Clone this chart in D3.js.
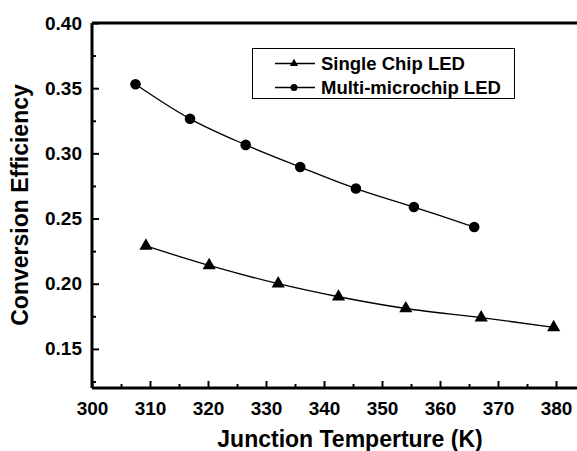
<!DOCTYPE html>
<html>
<head>
<meta charset="utf-8">
<script src="https://cdn.jsdelivr.net/npm/d3@7"></script>
<style>
  html, body { margin: 0; padding: 0; background: #fff; }
  svg { display: block; font-family: "Liberation Sans", Arial, sans-serif; font-weight: bold; }
</style>
</head>
<body>
<div id="chart"></div>
<script>
'use strict';

// data
const singleTemp = [309.3, 320.2, 332.1, 342.5, 354.1, 367.1, 379.6];
const singleEff = [0.229, 0.214, 0.2, 0.19, 0.181, 0.174, 0.1665];
const multiTemp = [307.5, 316.9, 326.5, 335.9, 345.5, 355.5, 365.9];
const multiEff = [0.353, 0.3265, 0.3065, 0.2895, 0.273, 0.2588, 0.2435];
const xTicks = [300, 310, 320, 330, 340, 350, 360, 370, 380];
const yTicks = [0.15, 0.20, 0.25, 0.30, 0.35, 0.40];
const seriesNames = ['Single Chip LED', 'Multi-microchip LED'];

const width = 577, height = 451;
const margin = {top: 23, left: 92, bottom: 388};

const svg = d3.select('#chart').append('svg')
    .attr('width', width)
    .attr('height', height);

const x = d3.scaleLinear().domain([300, 385]).range([margin.left, margin.left + 85 * 5.8]);
const y = d3.scaleLinear().domain([0.12, 0.40]).range([margin.bottom, margin.top]);

// frame: top line (right side is cut off)
svg.append('line')
    .attr('x1', margin.left).attr('x2', width)
    .attr('y1', margin.top).attr('y2', margin.top)
    .attr('stroke', '#000').attr('stroke-width', 3);

// bottom axis, ticks inward
const xAxis = svg.append('g')
    .attr('transform', `translate(0,${margin.bottom})`)
    .call(d3.axisBottom(x).tickValues(xTicks).tickSize(-7).tickPadding(14).tickFormat(d3.format('d')));
svg.append('g')
    .attr('transform', `translate(0,${margin.bottom})`)
    .call(d3.axisBottom(x).tickValues(d3.range(305, 385, 10)).tickSize(-4).tickFormat(''))
    .call(g => g.select('.domain').remove());

// left axis, ticks inward
const yAxis = svg.append('g')
    .attr('transform', `translate(${margin.left},0)`)
    .call(d3.axisLeft(y).tickValues(yTicks).tickSize(-7).tickPadding(10).tickFormat(d3.format('.2f')));
svg.append('g')
    .attr('transform', `translate(${margin.left},0)`)
    .call(d3.axisLeft(y).tickValues([0.125, 0.175, 0.225, 0.275, 0.325, 0.375]).tickSize(-4).tickFormat(''))
    .call(g => g.select('.domain').remove());

[xAxis, yAxis].forEach(g => {
    g.select('.domain').attr('stroke-width', 3);
    g.selectAll('.tick line').attr('stroke-width', 2);
    g.selectAll('text')
        .attr('font-size', 19)
        .attr('font-weight', 'bold')
        .attr('font-family', '"Liberation Sans", Arial, sans-serif')
        .attr('fill', '#000');
});
svg.selectAll('.tick line').attr('stroke-width', 2);
// x-axis domain should run off the right edge
xAxis.select('.domain').attr('d', `M${margin.left},0H${width}`);
yAxis.select('.domain').attr('d', `M0,${margin.bottom}V${margin.top}`);

// axis titles
svg.append('text')
    .attr('x', 350).attr('y', 447)
    .attr('text-anchor', 'middle')
    .attr('font-size', 23)
    .text('Junction Temperture (K)');
svg.append('text')
    .attr('transform', 'translate(28,205) rotate(-90)')
    .attr('text-anchor', 'middle')
    .attr('font-size', 23)
    .text('Conversion Efficiency');

// series
const singleData = singleTemp.map((t, i) => ({t, e: singleEff[i]}));
const multiData = multiTemp.map((t, i) => ({t, e: multiEff[i]}));

const line = d3.line()
    .x(d => x(d.t))
    .y(d => y(d.e))
    .curve(d3.curveCatmullRom);

const tri = d3.symbol().type(d3.symbolTriangle).size(75);
const triSmall = d3.symbol().type(d3.symbolTriangle).size(30);

[singleData, multiData].forEach(data => {
    svg.append('path')
        .datum(data)
        .attr('d', line)
        .attr('fill', 'none')
        .attr('stroke', '#000')
        .attr('stroke-width', 1.3);
});

svg.selectAll('.tri')
    .data(singleData)
    .join('path')
    .attr('class', 'tri')
    .attr('transform', d => `translate(${x(d.t)},${y(d.e)})`)
    .attr('d', tri)
    .attr('fill', '#000');

svg.selectAll('.dot')
    .data(multiData)
    .join('circle')
    .attr('class', 'dot')
    .attr('cx', d => x(d.t))
    .attr('cy', d => y(d.e))
    .attr('r', 5.3)
    .attr('fill', '#000');

// legend
const legend = svg.append('g');
legend.append('rect')
    .attr('x', 252.5).attr('y', 48.5)
    .attr('width', 262).attr('height', 50)
    .attr('fill', '#fff')
    .attr('stroke', '#000')
    .attr('stroke-width', 1);

seriesNames.forEach((name, i) => {
    const ly = 63.5 + i * 24;
    legend.append('line')
        .attr('x1', 275).attr('x2', 315)
        .attr('y1', ly).attr('y2', ly)
        .attr('stroke', '#000').attr('stroke-width', 1.3);
    if (i === 0) {
        legend.append('path')
            .attr('transform', `translate(294,${ly})`)
            .attr('d', triSmall)
            .attr('fill', '#000');
    } else {
        legend.append('circle')
            .attr('cx', 294).attr('cy', ly).attr('r', 3.5)
            .attr('fill', '#000');
    }
    legend.append('text')
        .attr('x', 321).attr('y', ly + 6.5)
        .attr('font-size', 18.5)
        .text(name);
});
</script>
</body>
</html>
